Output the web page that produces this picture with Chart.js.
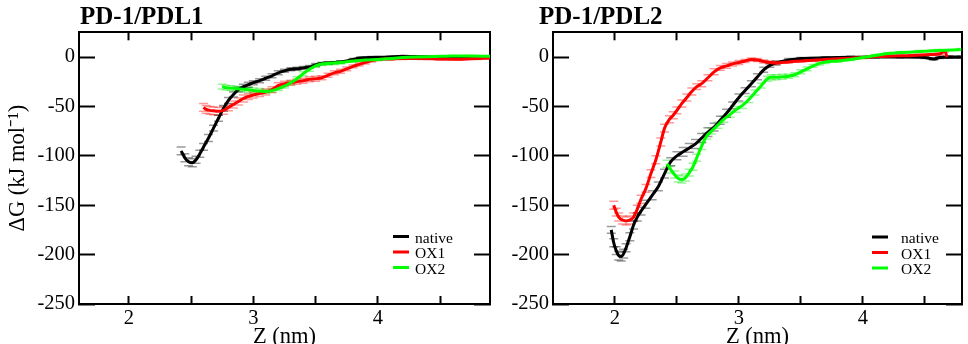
<!DOCTYPE html>
<html>
<head>
<meta charset="utf-8">
<script src="https://cdn.jsdelivr.net/npm/chart.js@4.4.0/dist/chart.umd.min.js"></script>
<style>
  body { margin: 0; background: #fff; width: 968px; height: 344px; overflow: hidden; position: relative; }
  canvas { position: absolute; top: 0; }
  #pdl1 { left: 0; }
  #pdl2 { left: 500px; }
</style>
</head>
<body>
<canvas id="pdl1" width="500" height="344"></canvas>
<canvas id="pdl2" width="468" height="344"></canvas>
<script>
const seriesNames = ['native', 'OX1', 'OX2'];
const seriesColors = ['#000000', '#ff0000', '#00ff00'];
const errColors = ['rgba(0,0,0,0.4)', 'rgba(255,0,0,0.4)', 'rgba(0,230,0,0.4)'];

const xTicks = [2, 2.5, 3, 3.5, 4, 4.5];
const yTicks = [-250, -200, -150, -100, -50, 0];

// PD-1/PDL1 free-energy profiles (Z in nm, dG in kJ/mol, err = error bar half-height)
const pdl1NativeZ = [2.42, 2.45, 2.48, 2.51, 2.54, 2.57, 2.60, 2.64, 2.68, 2.72, 2.76, 2.80, 2.84, 2.88, 2.92, 2.96, 3.00, 3.05, 3.10, 3.15, 3.20, 3.25, 3.30, 3.35, 3.40, 3.45, 3.50, 3.55, 3.60, 3.70, 3.80, 3.86, 3.95, 4.05, 4.20, 4.35, 4.50, 4.70, 4.90];
const pdl1NativeG = [-95, -102, -106, -107, -104, -98, -91, -82, -72, -62, -52, -44, -38, -33, -30, -28, -26, -24, -21.5, -19, -16, -14, -12.5, -12, -11, -10, -8, -6.5, -6, -5, -2.5, -1, -0.5, -0.2, 0.8, 0.3, 0, 0, -0.3];
const pdl1NativeErr = [4, 4, 4, 4, 3.5, 3.5, 3.5, 3.5, 3, 3, 3, 3, 2.5, 2.5, 2.5, 2.5, 2, 2, 2, 2, 2, 1.5, 1.5, 1.5, 1.5, 1.5, 1.5, 1, 1, 1, 1, 1, 1, 0.5, 0.5, 0.5, 0.5, 0.5, 0.5];

const pdl1Ox1Z = [2.60, 2.62, 2.65, 2.68, 2.72, 2.76, 2.80, 2.84, 2.88, 2.92, 2.96, 3.00, 3.05, 3.10, 3.15, 3.20, 3.25, 3.30, 3.35, 3.40, 3.45, 3.50, 3.55, 3.60, 3.65, 3.70, 3.75, 3.80, 3.85, 3.90, 3.95, 4.00, 4.10, 4.20, 4.35, 4.50, 4.65, 4.80, 4.90];
const pdl1Ox1G = [-51, -53, -54, -54.5, -55, -54, -51, -48, -45, -42, -40, -38.5, -37, -35.5, -33, -29, -27, -26, -25, -24, -22.5, -22, -21, -18.5, -16, -14.5, -12, -9.5, -7.5, -5.5, -3.5, -2.5, -2, -1.5, -1.5, -2, -2.2, -1.5, -1];
const pdl1Ox1Err = [4, 4, 4, 4, 4, 4, 3.5, 3.5, 3.5, 3.5, 3, 3, 3, 3, 3, 3, 2.5, 2.5, 2.5, 2.5, 2.5, 2.5, 2, 2, 2, 2, 2, 1.5, 1.5, 1.5, 1.5, 1, 1, 1, 1, 1, 1, 1, 1];

const pdl1Ox2Z = [2.75, 2.78, 2.82, 2.86, 2.90, 2.95, 3.00, 3.05, 3.10, 3.15, 3.20, 3.25, 3.30, 3.35, 3.40, 3.45, 3.50, 3.55, 3.60, 3.65, 3.70, 3.80, 3.90, 4.00, 4.10, 4.20, 4.30, 4.45, 4.60, 4.75, 4.90];
const pdl1Ox2G = [-30, -31, -31.5, -32, -32.5, -33, -34, -34.5, -35, -34, -32, -29.5, -26, -22, -17, -12.5, -9, -7, -6.5, -6, -5.5, -4, -3, -2.5, -1.5, -0.5, 0, 0.5, 1, 1, 0.8];
const pdl1Ox2Err = [2.5, 2.5, 2.5, 2.5, 2.5, 2.5, 2.5, 2.5, 2, 2, 2, 2, 2, 2, 2, 2, 1.5, 1.5, 1.5, 1.5, 1.5, 1, 1, 1, 1, 1, 1, 0.5, 0.5, 0.5, 0.5];

// PD-1/PDL2
const pdl2NativeZ = [1.97, 1.99, 2.01, 2.03, 2.05, 2.07, 2.09, 2.12, 2.15, 2.18, 2.21, 2.25, 2.30, 2.35, 2.40, 2.45, 2.50, 2.55, 2.60, 2.65, 2.70, 2.75, 2.80, 2.85, 2.90, 2.95, 3.00, 3.05, 3.10, 3.15, 3.20, 3.25, 3.30, 3.40, 3.50, 3.70, 3.90, 4.10, 4.30, 4.50, 4.57, 4.62, 4.70, 4.79];
const pdl2NativeG = [-175, -188, -196, -201, -202, -199, -193, -182, -170, -162, -156, -149, -140, -131, -118, -106, -100, -96, -92, -88, -82, -76, -71, -64, -57, -49, -41, -34, -27, -20, -13, -8.5, -6, -3, -1.5, -0.8, -0.3, 0, 0, -0.5, -2, -0.5, 0, 0];
const pdl2NativeErr = [3.5, 4, 4, 4.5, 4.5, 4.5, 4, 4, 4, 4, 4, 4, 4.5, 4.5, 4.5, 4, 4, 4.5, 4.5, 4.5, 4.5, 4.5, 4, 4, 4, 3.5, 3.5, 3, 3, 3, 2.5, 2, 2, 1.5, 1, 1, 1, 1, 1, 1, 1, 1, 1, 1];

const pdl2Ox1Z = [1.99, 2.01, 2.03, 2.06, 2.09, 2.12, 2.15, 2.18, 2.21, 2.25, 2.29, 2.33, 2.37, 2.40, 2.44, 2.47, 2.50, 2.54, 2.58, 2.62, 2.66, 2.70, 2.75, 2.80, 2.85, 2.90, 2.95, 3.00, 3.05, 3.10, 3.15, 3.20, 3.25, 3.30, 3.40, 3.50, 3.60, 3.70, 3.80, 3.90, 4.00, 4.10, 4.25, 4.40, 4.55, 4.62, 4.66, 4.68];
const pdl2Ox1G = [-150, -157, -162, -165, -166, -165, -162, -154, -144, -133, -118, -104, -86, -72, -63, -59, -54, -47, -41, -35, -30, -27, -21, -15, -11, -9, -7, -5.5, -4, -2.5, -3, -4.5, -5.5, -6, -5, -4, -3.2, -2.5, -1.8, -1.2, -0.5, 0.5, 1, 1.5, 2.5, 3, 6, 0];
const pdl2Ox1Err = [4, 4, 4, 4, 4, 4, 4, 4, 4, 4, 4, 4, 4, 4, 3.5, 3.5, 3.5, 3.5, 3.5, 3.5, 3, 3, 3, 3, 2.5, 2.5, 2, 2, 1.5, 1.5, 1.5, 1.5, 1.5, 1.5, 1, 1, 1, 1, 1, 1, 1, 1, 1, 1, 1, 1, 1, 1];

const pdl2Ox2Z = [2.42, 2.45, 2.48, 2.51, 2.54, 2.57, 2.60, 2.63, 2.66, 2.70, 2.74, 2.78, 2.83, 2.88, 2.93, 2.98, 3.03, 3.08, 3.13, 3.18, 3.23, 3.26, 3.30, 3.35, 3.40, 3.45, 3.50, 3.55, 3.60, 3.65, 3.70, 3.80, 3.90, 4.00, 4.10, 4.20, 4.30, 4.45, 4.60, 4.79];
const pdl2Ox2G = [-108, -114, -119, -123, -124, -122, -117, -111, -102, -90, -80, -75, -69, -63, -58, -53, -49, -43, -36, -29, -22, -20.5, -20.5, -20, -19.5, -18, -15, -12, -9, -6.5, -5, -4, -2.5, -0.5, 1.5, 3.5, 4.5, 5.5, 6.5, 7.5];
const pdl2Ox2Err = [3.5, 3.5, 3.5, 3.5, 3.5, 3.5, 3.5, 3.5, 3.5, 3.5, 3, 3, 3, 3, 3, 3, 3, 3, 2.5, 2.5, 2.5, 2.5, 2.5, 2.5, 2, 2, 2, 2, 1.5, 1.5, 1.5, 1, 1, 1, 1, 1, 1, 1, 1, 1];

const serif = '"Liberation Serif", "Times New Roman", serif';
const tickFont = { family: serif, size: 20.5 };

// panel heading, drawn above the frame
const panelTitle = {
  id: 'panelTitle',
  afterDraw(chart, args, opts) {
    const { ctx, chartArea } = chart;
    ctx.save();
    ctx.font = 'bold 25px ' + serif;
    ctx.fillStyle = '#000';
    ctx.textBaseline = 'alphabetic';
    ctx.fillText(opts.text, chartArea.left + opts.dx, 24);
    ctx.restore();
  }
};

// small legend inside the plot area
const insideLegend = {
  id: 'insideLegend',
  afterDatasetsDraw(chart, args, opts) {
    const { ctx, chartArea } = chart;
    ctx.save();
    ctx.font = '15.5px ' + serif;
    ctx.textBaseline = 'alphabetic';
    seriesNames.forEach((name, i) => {
      const y = opts.top + i * 15.5;
      ctx.strokeStyle = seriesColors[i];
      ctx.lineWidth = 3;
      ctx.beginPath();
      ctx.moveTo(chartArea.left + opts.lineX, y);
      ctx.lineTo(chartArea.left + opts.lineX + 16, y);
      ctx.stroke();
      ctx.fillStyle = '#000';
      ctx.fillText(name, chartArea.left + opts.textX, y + 6);
    });
    ctx.restore();
  }
};

function makeDatasets(groups) {
  const sets = [];
  groups.forEach((g, i) => {
    sets.push({
      label: seriesNames[i],
      data: g.z.map((z, k) => ({ x: z, y: g.g[k] })),
      borderColor: seriesColors[i],
      borderWidth: 3,
      pointRadius: 0,
      showLine: true,
      fill: false,
      cubicInterpolationMode: 'monotone',
      order: 3 - i
    });
    [1, -1].forEach(sign => {
      sets.push({
        label: seriesNames[i] + (sign > 0 ? ' +err' : ' -err'),
        data: g.z.map((z, k) => ({ x: z, y: g.g[k] + sign * g.err[k] })),
        showLine: false,
        pointStyle: 'line',
        pointRadius: 4.5,
        pointBorderWidth: 1.5,
        borderColor: errColors[i],
        backgroundColor: errColors[i],
        order: 10
      });
    });
  });
  return sets;
}

function frameAxis(position, extra) {
  const horiz = position === 'top' || position === 'bottom';
  return Object.assign({
    type: 'linear',
    position: position,
    grid: { drawOnChartArea: false, tickLength: horiz ? -8 : -16, tickWidth: 2, tickColor: '#000' },
    border: { display: true, color: '#000', width: 2 },
    ticks: { display: false }
  }, extra);
}

function buildPanel(canvasId, cfg) {
  const setX = s => { s.ticks = xTicks.map(v => ({ value: v })); };
  const setY = s => { s.ticks = yTicks.map(v => ({ value: v })); };
  const scales = {
    x: frameAxis('bottom', {
      min: cfg.xMin, max: cfg.xMax,
      afterBuildTicks: setX,
      afterFit: s => { s.height = 40; },
      ticks: { display: true, color: '#000', font: tickFont, padding: 10, maxRotation: 0, autoSkip: false,
               callback: v => Number.isInteger(v) ? String(v) : '' },
      title: { display: true, text: 'Z (nm)', color: '#000', font: { family: serif, size: 22.5 }, padding: { top: 0, bottom: -7 } }
    }),
    xTop: frameAxis('top', {
      min: cfg.xMin, max: cfg.xMax,
      afterBuildTicks: setX,
      afterFit: s => { s.height = 0; }
    }),
    y: frameAxis('left', {
      min: -250, max: 25,
      afterBuildTicks: setY,
      afterFit: s => { s.width = cfg.yWidth; },
      ticks: { display: true, color: '#000', font: tickFont, padding: 20, callback: v => String(v) },
      title: cfg.yTitle
        ? { display: true, text: 'ΔG (kJ mol⁻¹)', color: '#000', font: { family: serif, size: 22.5 }, padding: { top: 5 } }
        : { display: false }
    }),
    yRight: frameAxis('right', {
      min: -250, max: 25,
      afterBuildTicks: setY,
      afterFit: s => { s.width = 0; }
    })
  };
  return new Chart(document.getElementById(canvasId), {
    type: 'scatter',
    data: { datasets: makeDatasets(cfg.groups) },
    options: {
      responsive: false,
      animation: false,
      events: [],
      layout: { padding: { top: 31, right: cfg.padRight, bottom: 0, left: 0 } },
      scales: scales,
      plugins: {
        legend: { display: false },
        tooltip: { enabled: false },
        panelTitle: { text: cfg.title, dx: cfg.titleDx },
        insideLegend: cfg.legend
      }
    },
    plugins: [panelTitle, insideLegend]
  });
}

buildPanel('pdl1', {
  title: 'PD-1/PDL1', titleDx: 1,
  xMin: 1.6, xMax: 4.9, yWidth: 79, padRight: 10, yTitle: true,
  legend: { lineX: 314, textX: 336, top: 236.5 },
  groups: [
    { z: pdl1NativeZ, g: pdl1NativeG, err: pdl1NativeErr },
    { z: pdl1Ox1Z, g: pdl1Ox1G, err: pdl1Ox1Err },
    { z: pdl1Ox2Z, g: pdl1Ox2G, err: pdl1Ox2Err }
  ]
});

buildPanel('pdl2', {
  title: 'PD-1/PDL2', titleDx: -14,
  xMin: 1.5, xMax: 4.8, yWidth: 53, padRight: 1, yTitle: false,
  legend: { lineX: 319, textX: 348, top: 237 },
  groups: [
    { z: pdl2NativeZ, g: pdl2NativeG, err: pdl2NativeErr },
    { z: pdl2Ox1Z, g: pdl2Ox1G, err: pdl2Ox1Err },
    { z: pdl2Ox2Z, g: pdl2Ox2G, err: pdl2Ox2Err }
  ]
});
</script>
</body>
</html>
